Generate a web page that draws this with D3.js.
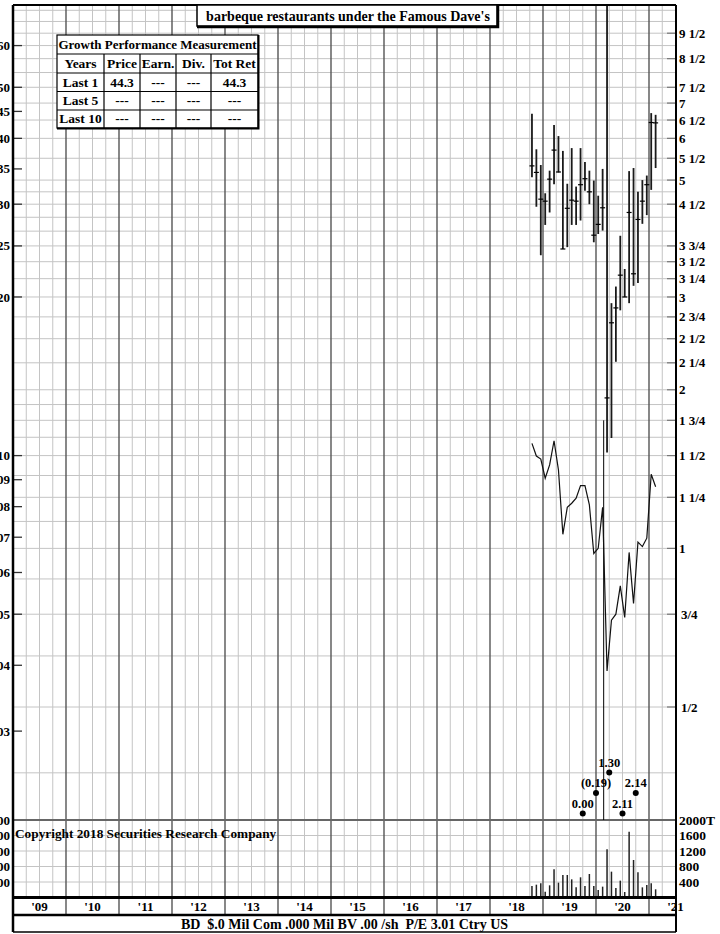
<!DOCTYPE html>
<html>
<head>
<meta charset="utf-8">
<script src="https://cdn.jsdelivr.net/npm/d3@7"></script>
<style>
body { margin: 0; background: #fff; }
svg text { font-family: "Liberation Serif", "Times New Roman", serif; font-weight: bold; fill: #000; white-space: pre; }
</style>
</head>
<body>
<div id="chart"></div>
<script>
// Monthly price bars (Oct 2018 .. Feb 2021)
const months = ["2018-10", "2018-11", "2018-12", "2019-01", "2019-02", "2019-03", "2019-04", "2019-05",
    "2019-06", "2019-07", "2019-08", "2019-09", "2019-10", "2019-11", "2019-12", "2020-01", "2020-02",
    "2020-03", "2020-04", "2020-05", "2020-06", "2020-07", "2020-08", "2020-09", "2020-10", "2020-11",
    "2020-12", "2021-01", "2021-02"];
const highs = [6.68, 5.72, 5.34, 4.72, 5.21, 6.36, 6.06, 5.68, 4.92, 5.75, 4.86, 5.75, 5.41, 5.21, 4.99,
    4.67, 5.25, 14.0, 2.92, 3.14, 3.92, 3.39, 5.20, 5.27, 4.75, 5.00, 5.10, 6.70, 6.65];
const lows = [5.06, 4.45, 3.60, 4.11, 4.34, 4.91, 5.17, 3.70, 3.73, 4.11, 4.11, 4.19, 4.77, 4.50, 3.81,
    3.95, 4.01, 1.52, 1.62, 2.26, 2.83, 3.00, 2.92, 3.15, 3.19, 4.13, 4.29, 4.79, 5.27];
const closes = [5.32, 5.17, 4.60, 4.56, 5.02, 5.70, 5.18, 3.70, 4.42, 4.58, 4.56, 4.90, 5.03, 4.75, 3.93,
    4.12, 4.43, 1.93, 2.68, 2.86, 3.30, 3.00, 4.34, 3.32, 4.21, 4.56, 4.90, 6.43, 6.42];
// Relative strength line (left axis units)
const relStrength = [0.1055, 0.0998, 0.0985, 0.0906, 0.0960, 0.1067, 0.0939, 0.0709, 0.0798, 0.0812,
    0.0830, 0.0877, 0.0877, 0.0806, 0.0652, 0.0667, 0.0798, 0.0390, 0.0487, 0.0500, 0.0566, 0.0493,
    0.0655, 0.0524, 0.0685, 0.0672, 0.0697, 0.0922, 0.0873];
// Monthly volume (thousands of shares)
const volumes = [297, 331, 366, 151, 314, 727, 383, 581, 581, 469, 262, 521, 297, 607, 297, 194, 280,
    1243, 667, 245, 435, 142, 1699, 968, 650, 262, 323, 366, 211];

// Quarterly earnings
const epsDates = [2019.75, 2020.0, 2020.25, 2020.5, 2020.75];
const epsLabels = ["0.00", "(0.19)", "1.30", "2.11", "2.14"];

// Thin marker line (date, price span)
const markerDates = [2020.145];
const markerSpan = [0.29, 1.75];

// Axis ticks
const rightTicks = [9.5, 8.5, 7.5, 7, 6.5, 6, 5.5, 5, 4.5, 3.75, 3.5, 3.25, 3, 2.75, 2.5, 2.25, 2, 1.75,
    1.5, 1.25, 1, 0.75, 0.5];
const rightTickLabels = ["9 1/2", "8 1/2", "7 1/2", "7", "6 1/2", "6", "5 1/2", "5", "4 1/2", "3 3/4",
    "3 1/2", "3 1/4", "3", "2 3/4", "2 1/2", "2 1/4", "2", "1 3/4", "1 1/2", "1 1/4", "1", "3/4", "1/2"];
const leftTicks = [0.60, 0.50, 0.45, 0.40, 0.35, 0.30, 0.25, 0.20, 0.10, 0.09, 0.08, 0.07, 0.06, 0.05,
    0.04, 0.03];
const priceGrid = [10.5, 10, 9.5, 9, 8.5, 8, 7.5, 7, 6.5, 6, 5.5, 5, 4.75, 4.5, 4.25, 4, 3.75, 3.5, 3.25,
    3, 2.75, 2.5, 2.25, 2, 1.875, 1.75, 1.625, 1.5, 1.375, 1.25, 1.125, 1, 0.875, 0.75, 0.625, 0.5, 0.375];
const volTicks = [2000, 1600, 1200, 800, 400];
const volTickLabels = ["2000T", "1600", "1200", "800", "400"];
const years = d3.range(2009, 2022);

// Texts
const titleText = "barbeque restaurants under the Famous Dave's";
const footerText = "BD  $.0 Mil Com .000 Mil BV .00 /sh  P/E 3.01 Ctry US";
const copyrightText = "Copyright 2018 Securities Research Company";
const tableTitle = "Growth Performance Measurement";
const tableHeader = ["Years", "Price", "Earn.", "Div.", "Tot Ret"];
const tableRows = [
    ["Last 1", "44.3", "---", "---", "44.3"],
    ["Last 5", "---", "---", "---", "---"],
    ["Last 10", "---", "---", "---", "---"]
];

// Layout
const chartLeft = 13, chartRight = 676;
const chartTop = 5, priceBottom = 820, volBottom = 897.5, axisBottom = 915, boxBottom = 932;

const svg = d3.select("#chart").append("svg")
    .attr("width", 720)
    .attr("height", 934);

// Scales
const x = d3.scaleLinear().domain([2009, 2021.5]).range([chartLeft, 675.5]);
const y = d3.scaleLog().domain([0.5, 9.5]).range([707, 33.2]);
const yRel = d3.scaleLog().domain([0.5 / 15, 9.5 / 15]).range([707, 33.2]);
const yVol = d3.scaleLinear().domain([0, 2000]).range([volBottom, priceBottom]);

const monthX = (m) => {
    const [yr, mo] = m.split("-").map(Number);
    return x(yr + (mo - 0.5) / 12);
};

svg.append("clipPath").attr("id", "priceClip")
    .append("rect")
    .attr("x", chartLeft).attr("y", chartTop)
    .attr("width", chartRight - chartLeft).attr("height", priceBottom - chartTop);

// Horizontal grid
svg.append("g").selectAll("line")
    .data(priceGrid.filter(p => y(p) > chartTop && y(p) < priceBottom))
    .enter().append("line")
    .attr("x1", chartLeft).attr("x2", chartRight)
    .attr("y1", d => y(d)).attr("y2", d => y(d))
    .attr("stroke", "#c4c4c4").attr("stroke-width", 1);

svg.append("g").selectAll("line")
    .data(volTicks.slice(1))
    .enter().append("line")
    .attr("x1", chartLeft).attr("x2", chartRight)
    .attr("y1", d => yVol(d)).attr("y2", d => yVol(d))
    .attr("stroke", "#c4c4c4").attr("stroke-width", 1);

// Vertical grid: quarters and years
const quarters = d3.range(2009.25, 2021.5, 0.25).filter(q => q % 1 !== 0);
svg.append("g").selectAll("line")
    .data(quarters)
    .enter().append("line")
    .attr("x1", d => x(d)).attr("x2", d => x(d))
    .attr("y1", chartTop).attr("y2", volBottom)
    .attr("stroke", "#c4c4c4").attr("stroke-width", 1);

svg.append("g").selectAll("line")
    .data(years.slice(1))
    .enter().append("line")
    .attr("x1", d => x(d)).attr("x2", d => x(d))
    .attr("y1", chartTop).attr("y2", axisBottom)
    .attr("stroke", "#555").attr("stroke-width", 1.4);

// Panel separator between price and volume
svg.append("line")
    .attr("x1", chartLeft).attr("x2", chartRight)
    .attr("y1", priceBottom).attr("y2", priceBottom)
    .attr("stroke", "#666").attr("stroke-width", 2);

// Left ticks
svg.append("g").selectAll("line")
    .data(leftTicks)
    .enter().append("line")
    .attr("x1", chartLeft).attr("x2", chartLeft + 9)
    .attr("y1", d => yRel(d)).attr("y2", d => yRel(d))
    .attr("stroke", "#333").attr("stroke-width", 1.3);

svg.append("g").selectAll("text")
    .data(leftTicks)
    .enter().append("text")
    .attr("x", 10).attr("y", d => yRel(d))
    .attr("dy", "0.35em")
    .attr("text-anchor", "end")
    .attr("font-size", 13)
    .text(d => d.toFixed(2).replace(/^0/, ""));

svg.append("g").selectAll("text")
    .data(volTicks)
    .enter().append("text")
    .attr("x", 10).attr("y", d => yVol(d))
    .attr("dy", "0.35em")
    .attr("text-anchor", "end")
    .attr("font-size", 13)
    .text(d => d);

// Right ticks and labels
svg.append("g").selectAll("line")
    .data(rightTicks)
    .enter().append("line")
    .attr("x1", chartRight - 9).attr("x2", chartRight)
    .attr("y1", d => y(d)).attr("y2", d => y(d))
    .attr("stroke", "#777").attr("stroke-width", 1.2);

svg.append("g").selectAll("text")
    .data(rightTicks)
    .enter().append("text")
    .attr("x", d => (d < 1 ? 681 : 679)).attr("y", d => y(d))
    .attr("dy", "0.35em")
    .attr("font-size", 13)
    .text((d, i) => rightTickLabels[i]);

svg.append("g").selectAll("text")
    .data(volTicks)
    .enter().append("text")
    .attr("x", 679).attr("y", d => yVol(d))
    .attr("dy", "0.35em")
    .attr("font-size", 13.5)
    .text((d, i) => volTickLabels[i]);

// Price panel content (clipped)
const pricePanel = svg.append("g").attr("clip-path", "url(#priceClip)");

pricePanel.selectAll("line.marker")
    .data(markerDates)
    .enter().append("line")
    .attr("class", "marker")
    .attr("x1", d => x(d)).attr("x2", d => x(d))
    .attr("y1", y(markerSpan[1])).attr("y2", y(markerSpan[0]))
    .attr("stroke", "#000").attr("stroke-width", 1);

// Relative strength line
const rsLine = d3.line()
    .x((d, i) => monthX(months[i]))
    .y(d => yRel(d));
pricePanel.append("path")
    .datum(relStrength)
    .attr("d", rsLine)
    .attr("fill", "none")
    .attr("stroke", "#111")
    .attr("stroke-width", 1.2);

// High-low bars with close ticks
pricePanel.selectAll("line.bar")
    .data(months)
    .enter().append("line")
    .attr("class", "bar")
    .attr("x1", d => monthX(d)).attr("x2", d => monthX(d))
    .attr("y1", (d, i) => y(highs[i])).attr("y2", (d, i) => y(lows[i]))
    .attr("stroke", "#1a1a1a").attr("stroke-width", 1.8);

pricePanel.selectAll("line.close")
    .data(months)
    .enter().append("line")
    .attr("class", "close")
    .attr("x1", d => monthX(d) - 2.5).attr("x2", d => monthX(d) + 2.5)
    .attr("y1", (d, i) => y(closes[i])).attr("y2", (d, i) => y(closes[i]))
    .attr("stroke", "#000").attr("stroke-width", 1.2);

// Earnings dots, staggered on three rows
const epsY = (i) => priceBottom - 6.5 - (i % 3) * 20.5;
svg.append("g").selectAll("circle")
    .data(epsDates)
    .enter().append("circle")
    .attr("cx", d => x(d))
    .attr("cy", (d, i) => epsY(i))
    .attr("r", 3)
    .attr("fill", "#000");

svg.append("g").selectAll("text")
    .data(epsDates)
    .enter().append("text")
    .attr("x", d => x(d))
    .attr("y", (d, i) => epsY(i) - 6)
    .attr("text-anchor", "middle")
    .attr("font-size", 12.5)
    .text((d, i) => epsLabels[i]);

// Volume bars
svg.append("g").selectAll("line")
    .data(volumes)
    .enter().append("line")
    .attr("x1", (d, i) => monthX(months[i])).attr("x2", (d, i) => monthX(months[i]))
    .attr("y1", volBottom).attr("y2", d => yVol(d))
    .attr("stroke", "#222").attr("stroke-width", 1.5);

// Copyright
svg.append("text")
    .attr("x", 15).attr("y", 837.5)
    .attr("font-size", 13.3)
    .text(copyrightText);

// Year labels
svg.append("g").selectAll("text")
    .data(years)
    .enter().append("text")
    .attr("x", d => x(d + 0.5))
    .attr("y", 910.5)
    .attr("text-anchor", "middle")
    .attr("font-size", 13)
    .text(d => "'" + String(d).slice(2));

// Frame lines
svg.append("line")
    .attr("x1", chartLeft).attr("x2", chartRight)
    .attr("y1", volBottom).attr("y2", volBottom)
    .attr("stroke", "#000").attr("stroke-width", 3);
svg.append("line")
    .attr("x1", chartLeft).attr("x2", chartRight)
    .attr("y1", axisBottom).attr("y2", axisBottom)
    .attr("stroke", "#000").attr("stroke-width", 2.5);
svg.append("line")
    .attr("x1", chartLeft).attr("x2", chartRight)
    .attr("y1", boxBottom).attr("y2", boxBottom)
    .attr("stroke", "#000").attr("stroke-width", 1.5);
svg.append("line")
    .attr("x1", chartLeft).attr("x2", chartRight)
    .attr("y1", chartTop).attr("y2", chartTop)
    .attr("stroke", "#000").attr("stroke-width", 2);
svg.append("line")
    .attr("x1", chartLeft).attr("x2", chartLeft)
    .attr("y1", chartTop).attr("y2", boxBottom)
    .attr("stroke", "#000").attr("stroke-width", 2.5);
svg.append("line")
    .attr("x1", chartRight).attr("x2", chartRight)
    .attr("y1", chartTop).attr("y2", boxBottom)
    .attr("stroke", "#000").attr("stroke-width", 2);

svg.append("text")
    .attr("x", (chartLeft + chartRight) / 2).attr("y", 928.5)
    .attr("text-anchor", "middle")
    .attr("font-size", 14)
    .text(footerText);

// Title box
const title = svg.append("g");
title.append("rect")
    .attr("x", 197).attr("y", chartTop).attr("width", 300).attr("height", 21)
    .attr("fill", "#fff").attr("stroke", "#000").attr("stroke-width", 1.5);
title.append("path")
    .attr("d", `M197,${chartTop + 22} H498 V${chartTop}`)
    .attr("fill", "none").attr("stroke", "#000").attr("stroke-width", 2.5);
title.append("text")
    .attr("x", 348).attr("y", 20.5)
    .attr("text-anchor", "middle")
    .attr("font-size", 14)
    .text(titleText);

// Growth performance table
const colEdges = [57, 104, 140, 176, 211, 258];
const rowEdges = [35, 54, 73, 91.5, 110, 128];
const table = svg.append("g");
table.append("rect")
    .attr("x", colEdges[0]).attr("y", rowEdges[0])
    .attr("width", colEdges[5] - colEdges[0]).attr("height", rowEdges[5] - rowEdges[0])
    .attr("fill", "#fff").attr("stroke", "#000").attr("stroke-width", 1.2);
table.append("path")
    .attr("d", `M${colEdges[0]},${rowEdges[5] + 0.5} H${colEdges[5] + 0.5} V${rowEdges[0]}`)
    .attr("fill", "none").attr("stroke", "#000").attr("stroke-width", 2);
table.selectAll("line.row")
    .data(rowEdges.slice(1, 5))
    .enter().append("line")
    .attr("x1", colEdges[0]).attr("x2", colEdges[5])
    .attr("y1", d => d).attr("y2", d => d)
    .attr("stroke", "#000").attr("stroke-width", 1.2);
table.selectAll("line.col")
    .data(colEdges.slice(1, 5))
    .enter().append("line")
    .attr("x1", d => d).attr("x2", d => d)
    .attr("y1", rowEdges[1]).attr("y2", rowEdges[5])
    .attr("stroke", "#000").attr("stroke-width", 1.2);
table.append("text")
    .attr("x", (colEdges[0] + colEdges[5]) / 2).attr("y", rowEdges[1] - 5)
    .attr("text-anchor", "middle")
    .attr("font-size", 13)
    .text(tableTitle);
[tableHeader, ...tableRows].forEach((row, r) => {
    row.forEach((cell, c) => {
        table.append("text")
            .attr("x", (colEdges[c] + colEdges[c + 1]) / 2)
            .attr("y", rowEdges[r + 2] - 5)
            .attr("text-anchor", "middle")
            .attr("font-size", 13.5)
            .text(cell);
    });
});
</script>
</body>
</html>
